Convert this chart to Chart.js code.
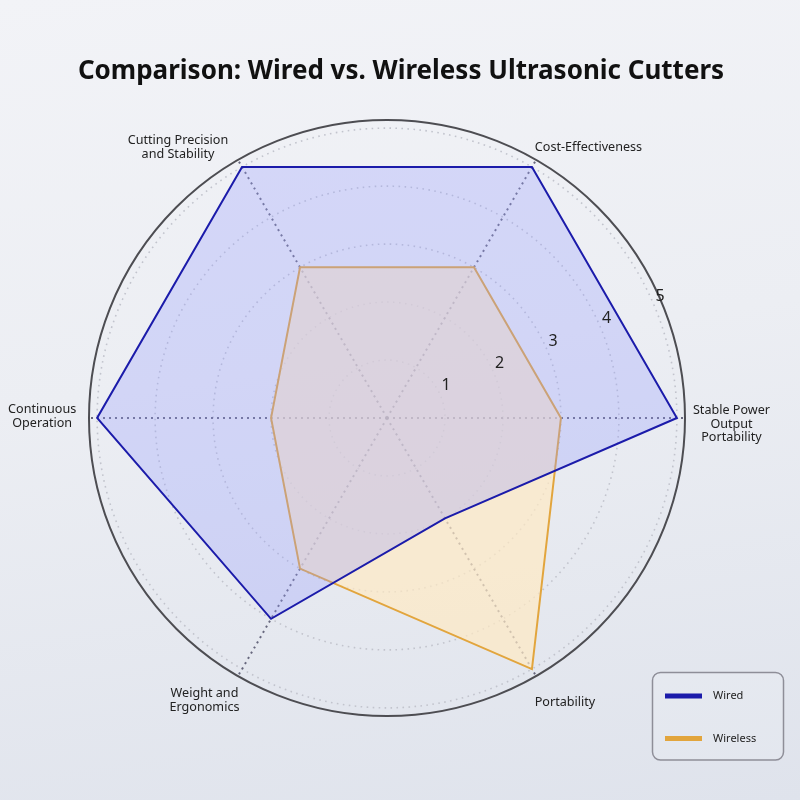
<!DOCTYPE html>
<html><head><meta charset="utf-8">
<script src="https://cdn.jsdelivr.net/npm/chart.js@4.4.1/dist/chart.umd.min.js"></script>
<style>
html,body{margin:0;padding:0;}
body{width:800px;height:800px;overflow:hidden;background:linear-gradient(172deg,#f2f3f7 0%,#eceef3 45%,#dfe3ec 100%);}
#wrap{width:800px;height:800px;}
</style></head><body>
<div id="wrap"><canvas id="c" width="800" height="800"></canvas></div>
<script>
const categories = [["Stable Power","Output","Portability"], "Portability", ["Weight and","Ergonomics"], ["Continuous","Operation"], ["Cutting Precision","and Stability"], "Cost-Effectiveness"];
const seriesNames = ["Wired", "Wireless"];
const wiredValues = [5, 2, 4, 5, 5, 5];
const wirelessValues = [3, 5, 3, 2, 3, 3];
const tickValues = [1, 2, 3, 4, 5];
const axisMax = 5.14;
const chartTitle = "Comparison: Wired vs. Wireless Ultrasonic Cutters";

const labelOffsets = [[46.5, 6], [29, 26], [-33.5, 24.5], [-46.8, -1.3], [-60, -12.7], [52.5, -13]];
const FONT = "'Noto Sans', sans-serif";
Chart.defaults.font.family = FONT;

function rr(ctx, x, y, w, h, r) {
  ctx.beginPath();
  ctx.moveTo(x + r, y);
  ctx.lineTo(x + w - r, y); ctx.arcTo(x + w, y, x + w, y + r, r);
  ctx.lineTo(x + w, y + h - r); ctx.arcTo(x + w, y + h, x + w - r, y + h, r);
  ctx.lineTo(x + r, y + h); ctx.arcTo(x, y + h, x, y + h - r, r);
  ctx.lineTo(x, y + r); ctx.arcTo(x, y, x + r, y, r);
  ctx.closePath();
}

const overlay = {
  id: 'overlay',
  afterDatasetsDraw(chart) {
    const s = chart.scales.r, ctx = chart.ctx;
    ctx.save();
    ctx.fillStyle = '#222';
    ctx.textAlign = 'center';
    ctx.textBaseline = 'middle';
    ctx.font = "16px " + FONT;
    const ta = -22.6 * Math.PI / 180;
    tickValues.forEach(v => {
      const d = s.getDistanceFromCenterForValue(v);
      ctx.fillText(String(v), s.xCenter + Math.cos(ta) * d + 5.5, s.yCenter + Math.sin(ta) * d - 10);
    });
    ctx.font = "12.6px " + FONT;
    chart.data.labels.forEach((lab, i) => {
      const p = s.getPointPosition(i, s.drawingArea);
      const lines = Array.isArray(lab) ? lab : [lab];
      const [dx, dy] = labelOffsets[i];
      lines.forEach((t, k) => ctx.fillText(t, p.x + dx, p.y + dy + (k - (lines.length - 1) / 2) * 13.7));
    });
    ctx.restore();
  },
  afterDraw(chart) {
    const ctx = chart.ctx;
    ctx.save();
    // title
    ctx.fillStyle = '#111';
    ctx.font = "bold 26px " + FONT;
    ctx.textAlign = 'center';
    ctx.textBaseline = 'middle';
    ctx.fillText(chartTitle, 401, 72);
    // legend
    rr(ctx, 652.5, 672.5, 131, 87.5, 8);
    ctx.fillStyle = 'rgba(255,255,255,0.12)';
    ctx.fill();
    ctx.strokeStyle = '#8e8e98';
    ctx.lineWidth = 1.5;
    ctx.stroke();
    chart.data.datasets.forEach((ds, i) => {
      const y = 696 + i * 42.5;
      ctx.strokeStyle = ds.borderColor;
      ctx.lineWidth = 5;
      ctx.lineCap = 'butt';
      ctx.beginPath(); ctx.moveTo(665, y); ctx.lineTo(702, y); ctx.stroke();
      ctx.fillStyle = '#222';
      ctx.font = "11px " + FONT;
      ctx.textAlign = 'left';
      ctx.textBaseline = 'middle';
      ctx.fillText(ds.label, 713, y);
    });
    ctx.restore();
  }
};

const outerIdx = tickValues.length + 1;
new Chart(document.getElementById('c'), {
  type: 'radar',
  data: {
    labels: categories,
    datasets: [
      { label: seriesNames[0], data: wiredValues, borderColor: '#1b1baa', backgroundColor: 'rgba(150,155,255,0.3)', borderWidth: 2, pointRadius: 0, fill: true },
      { label: seriesNames[1], data: wirelessValues, borderColor: '#e2a53d', backgroundColor: 'rgba(255,234,195,0.7)', borderWidth: 2, pointRadius: 0, fill: true }
    ]
  },
  options: {
    responsive: false,
    animation: false,
    devicePixelRatio: 1,
    layout: { padding: { top: 120, left: 89, right: 114, bottom: 83 } },
    elements: { line: { tension: 0, borderJoinStyle: 'miter' } },
    plugins: {
      legend: { display: false },
      tooltip: { enabled: false },
      title: { display: false }
    },
    scales: {
      r: {
        min: 0, max: axisMax, startAngle: 90,
        afterBuildTicks: (sc) => { sc.ticks = [0, ...tickValues, axisMax].map(v => ({ value: v })); },
        ticks: { display: false, stepSize: 1 },
        pointLabels: { display: false },
        grid: {
          circular: true,
          color: (c) => c.index === outerIdx ? '#4d4d52' : '#c2c4cd',
          lineWidth: (c) => c.index === outerIdx ? 2 : 1.6,
          borderDash: (c) => c.index === outerIdx ? [] : [1.6, 4.4]
        },
        border: { dash: (c) => c.index === outerIdx ? [] : [1.6, 4.4] },
        angleLines: { color: 'rgba(80,80,105,0.85)', lineWidth: 2, borderDash: [2, 4] }
      }
    }
  },
  plugins: [overlay]
});
</script>
</body></html>
